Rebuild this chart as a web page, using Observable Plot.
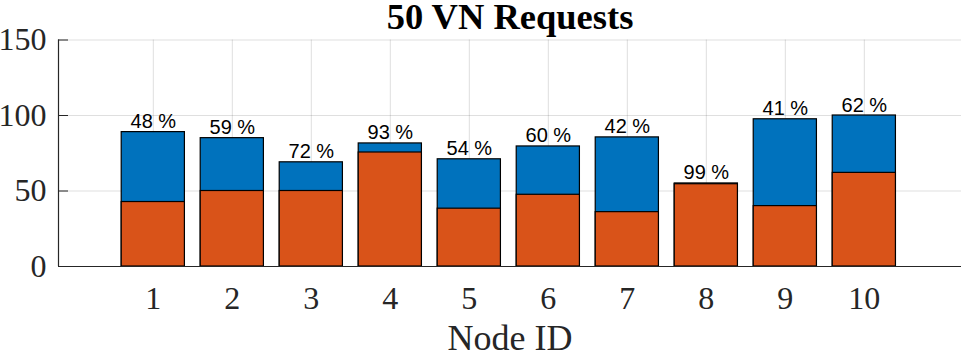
<!DOCTYPE html>
<html>
<head>
<meta charset="utf-8">
<script src="https://cdn.jsdelivr.net/npm/d3@7"></script>
<script src="https://cdn.jsdelivr.net/npm/@observablehq/plot@0.6"></script>
<style>
  html, body { margin: 0; padding: 0; background: #fff; }
</style>
</head>
<body>
<div id="chart"></div>
<script>
const title = "50 VN Requests";
const xLabel = "Node ID";
const nodes = [1, 2, 3, 4, 5, 6, 7, 8, 9, 10];
const totals = [89, 85, 69, 81.5, 71, 79.5, 85.5, 55, 97.5, 100];
const used = [42.7, 50, 50, 75.5, 38.3, 47.5, 36, 54.5, 40, 62];
const percents = [48, 59, 72, 93, 54, 60, 42, 99, 41, 62];
const yTicks = [0, 50, 100, 150];

const data = nodes.map((n, i) => ({node: n, total: totals[i], used: used[i], pct: percents[i] + " %"}));

const blue = "#0072BD";
const orange = "#D95319";
const axisColor = "#262626";
const serif = "'Liberation Serif', 'Times New Roman', serif";
const sans = "'Liberation Sans', Arial, sans-serif";
const barWidth = 0.8;
const xDomain = [-0.2, 11.23];

const chart = Plot.plot({
  width: 961,
  height: 355,
  marginLeft: 58,
  marginRight: 0,
  marginTop: 39.5,
  marginBottom: 89,
  style: {background: "#fff", overflow: "visible"},
  x: {type: "linear", domain: xDomain},
  y: {domain: [0, 150]},
  marks: [
    Plot.gridX(nodes, {stroke: axisColor, strokeOpacity: 0.15, strokeWidth: 1}),
    Plot.gridY(yTicks.filter(d => d > 0), {stroke: axisColor, strokeOpacity: 0.15, strokeWidth: 1}),
    Plot.rect(data, {x1: d => d.node - barWidth / 2, x2: d => d.node + barWidth / 2, y1: 0, y2: "total", fill: blue, stroke: "#000", strokeWidth: 1.2}),
    Plot.rect(data, {x1: d => d.node - barWidth / 2, x2: d => d.node + barWidth / 2, y1: 0, y2: "used", fill: orange, stroke: "#000", strokeWidth: 1.2}),
    Plot.text(data, {x: "node", y: "total", text: "pct", lineAnchor: "bottom", dy: -4, fontFamily: sans, fontSize: 20, fill: "#000"}),
    Plot.ruleY([0], {stroke: axisColor, strokeWidth: 1.2}),
    Plot.ruleX([xDomain[0]], {stroke: axisColor, strokeWidth: 1.2}),
    Plot.axisY({ticks: yTicks, tickSize: 0, tickPadding: 12, tickFormat: d => String(d), fontFamily: serif, fontSize: 32, fill: axisColor, label: null}),
    Plot.axisY({ticks: yTicks, tickSize: -10, text: null, stroke: axisColor, label: null}),
    Plot.axisX({ticks: nodes, tickSize: 0, tickPadding: 20, tickFormat: d => String(d), fontFamily: serif, fontSize: 32, fill: axisColor, label: null}),
    Plot.text([xLabel], {frameAnchor: "bottom", lineAnchor: "bottom", dy: 83, fontFamily: serif, fontSize: 36, fill: axisColor}),
    Plot.text([title], {frameAnchor: "top", lineAnchor: "bottom", dy: -11, fontFamily: serif, fontSize: 36.5, fontWeight: "bold", fill: "#000"})
  ]
});
document.getElementById("chart").appendChild(chart);
</script>
</body>
</html>
